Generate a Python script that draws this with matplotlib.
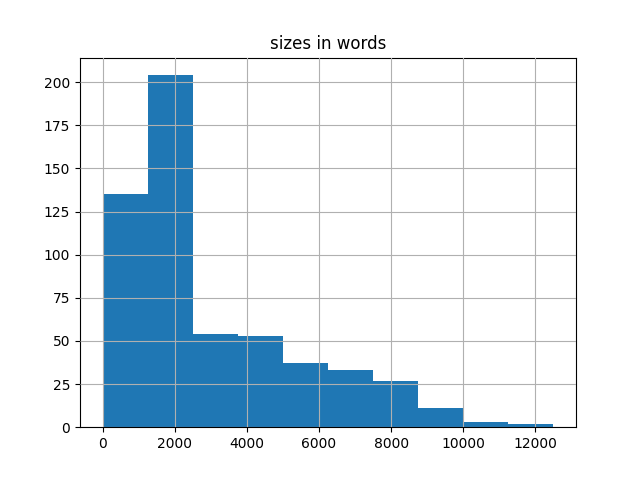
import numpy as np
import matplotlib
matplotlib.use('Agg')
import matplotlib.pyplot as plt

# bin edges (words) and counts
bin_edges = [0, 1250, 2500, 3750, 5000, 6250, 7500, 8750, 10000, 11250, 12500]
counts = [135, 204, 54, 53, 37, 33, 27, 11, 3, 2]

fig, ax = plt.subplots(figsize=(6.4, 4.8), dpi=100)

edges = np.array(bin_edges)
ax.hist(edges[:-1], bins=edges, weights=counts, color='#1f77b4')
ax.grid(True)
ax.set_axisbelow(False)
ax.set_title('sizes in words')

plt.savefig('out.png')
